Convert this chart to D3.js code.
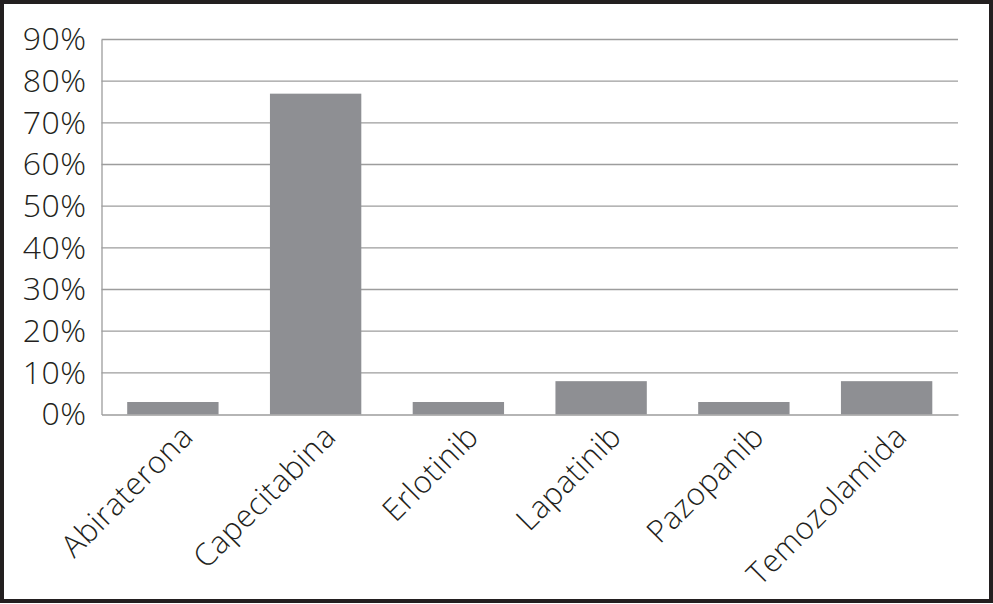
<!DOCTYPE html>
<html>
<head>
<meta charset="utf-8">
<script src="https://cdn.jsdelivr.net/npm/d3@7"></script>
<style>
	body { margin: 0; background: #fff; }
	svg { display: block; font-family: "Open Sans", sans-serif; }
</style>
</head>
<body>
<div id="chart"></div>
<script>
// data
const drugs = ['Abiraterona', 'Capecitabina', 'Erlotinib', 'Lapatinib', 'Pazopanib', 'Temozolamida']
const shares = [0.03, 0.77, 0.03, 0.08, 0.03, 0.08]
const yTicks = [0, 0.1, 0.2, 0.3, 0.4, 0.5, 0.6, 0.7, 0.8, 0.9]

const width = 993, height = 604
const margin = { top: 39.5, right: 35, bottom: 189.5, left: 101.5 }
const innerW = width - margin.left - margin.right
const innerH = height - margin.top - margin.bottom

const svg = d3.select('#chart').append('svg')
	.attr('width', width)
	.attr('height', height)

// outer frame
svg.append('rect')
	.attr('x', 2).attr('y', 2)
	.attr('width', width - 4).attr('height', height - 5)
	.attr('fill', '#fff')
	.attr('stroke', '#231f20')
	.attr('stroke-width', 4)

const g = svg.append('g')
	.attr('transform', 'translate(' + margin.left + ',' + margin.top + ')')

const x = d3.scaleBand()
	.domain(drugs)
	.range([0, innerW])
	.paddingInner(0.36)
	.paddingOuter(0.18)

const y = d3.scaleLinear()
	.domain([0, 0.9])
	.range([innerH, 0])

// gridlines
g.append('g')
	.attr('class', 'grid')
	.selectAll('line')
	.data(yTicks.filter(d => d > 0))
	.join('line')
	.attr('x1', 0).attr('x2', innerW)
	.attr('y1', d => y(d)).attr('y2', d => y(d))
	.attr('stroke', '#9d9d9d')
	.attr('stroke-width', 1.3)

// bars
g.selectAll('.bar')
	.data(drugs)
	.join('rect')
	.attr('class', 'bar')
	.attr('x', d => x(d))
	.attr('y', (d, i) => y(shares[i]))
	.attr('width', x.bandwidth())
	.attr('height', (d, i) => innerH - y(shares[i]))
	.attr('fill', '#8e8f93')

// y axis
const yAxis = g.append('g')
	.call(d3.axisLeft(y).tickValues(yTicks).tickFormat(d3.format('.0%')).tickSize(0).tickPadding(15))
yAxis.select('.domain').attr('stroke', '#9d9d9d').attr('stroke-width', 1.3)
yAxis.selectAll('text')
	.attr('font-size', 32)
	.attr('font-weight', 300)
	.attr('letter-spacing', 0.5)
	.attr('fill', '#231f20')
	.attr('font-family', '"Open Sans", sans-serif')

// x axis
const xAxis = g.append('g')
	.attr('transform', 'translate(0,' + innerH + ')')
	.call(d3.axisBottom(x).tickSize(0).tickPadding(0))
xAxis.select('.domain').attr('stroke', '#9d9d9d').attr('stroke-width', 1.3)
xAxis.selectAll('text')
	.attr('font-size', 31)
	.attr('font-weight', 300)
	.attr('letter-spacing', 0.5)
	.attr('fill', '#231f20')
	.attr('font-family', '"Open Sans", sans-serif')
	.attr('text-anchor', 'end')
	.attr('dy', 0)
	.attr('transform', 'translate(22,24) rotate(-45)')
</script>
</body>
</html>
